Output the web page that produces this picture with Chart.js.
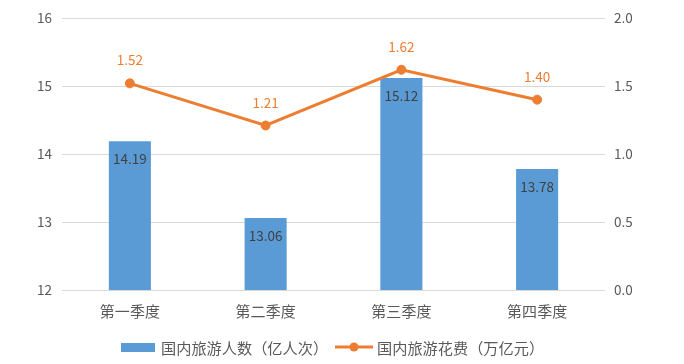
<!DOCTYPE html>
<html><head><meta charset="utf-8">
<script src="https://cdn.jsdelivr.net/npm/chart.js@4/dist/chart.umd.min.js"></script>
<style>html,body{margin:0;padding:0;background:#fff}#wrap{width:684px;height:364px;position:relative}</style>
</head><body><div id="wrap"><canvas id="c" width="684" height="364"></canvas></div>
<script>
const categories = ['第一季度','第二季度','第三季度','第四季度'];
const visitors = [14.19, 13.06, 15.12, 13.78];
const spending = [1.52, 1.21, 1.62, 1.40];
const leftTicks = [12, 13, 14, 15, 16];
const rightTicks = [0, 0.5, 1.0, 1.5, 2.0];
const seriesNames = ['国内旅游人数（亿人次）', '国内旅游花费（万亿元）'];

const FONT = '"Noto Sans CJK SC", "Noto Sans", sans-serif';
const BLUE = '#5b9bd5', ORANGE = '#ed7d31', GRAY = '#595959';

const labelPlugin = {
  id: 'labels',
  afterDatasetsDraw(chart) {
    const ctx = chart.ctx;
    ctx.save();
    ctx.font = '13.5px ' + FONT;
    ctx.textAlign = 'center';
    ctx.textBaseline = 'middle';
    chart.getDatasetMeta(0).data.forEach((el, i) => {
      ctx.fillStyle = '#404040';
      ctx.fillText(visitors[i].toFixed(2), el.x, el.y + 18);
    });
    chart.getDatasetMeta(1).data.forEach((el, i) => {
      ctx.fillStyle = ORANGE;
      ctx.fillText(spending[i].toFixed(2), el.x, el.y - 23);
    });
    // legend
    const y = 347;
    ctx.font = '15.2px ' + FONT;
    ctx.textAlign = 'left';
    ctx.fillStyle = BLUE;
    ctx.fillRect(121, y - 4, 34, 9);
    ctx.fillStyle = GRAY;
    ctx.fillText(seriesNames[0], 161, y + 1);
    ctx.strokeStyle = ORANGE; ctx.lineWidth = 3;
    ctx.beginPath(); ctx.moveTo(335, y); ctx.lineTo(373, y); ctx.stroke();
    ctx.fillStyle = ORANGE;
    ctx.beginPath(); ctx.arc(354, y, 4.5, 0, Math.PI * 2); ctx.fill();
    ctx.fillStyle = GRAY;
    ctx.fillText(seriesNames[1], 377, y + 1);
    ctx.restore();
  }
};

new Chart(document.getElementById('c'), {
  data: {
    labels: categories,
    datasets: [
      { type: 'bar', label: seriesNames[0], data: visitors, yAxisID: 'y',
        backgroundColor: BLUE, barPercentage: 0.31, categoryPercentage: 1, order: 1 },
      { type: 'line', label: seriesNames[1], data: spending, yAxisID: 'y1',
        borderColor: ORANGE, backgroundColor: ORANGE, borderWidth: 3,
        pointRadius: 4.5, pointHoverRadius: 4.5, pointBorderWidth: 1, tension: 0, order: 0 }
    ]
  },
  options: {
    responsive: false, animation: false,
    layout: { padding: { top: 10, bottom: 44, left: 0, right: 0 } },
    plugins: { legend: { display: false }, tooltip: { enabled: false } },
    scales: {
      x: {
        grid: { display: false }, border: { display: false },
        ticks: { color: GRAY, font: { size: 15, family: FONT }, padding: 4 },
        afterFit(s) { s.height = 30; }
      },
      y: {
        position: 'left', min: 12, max: 16,
        afterBuildTicks(s) { s.ticks = leftTicks.map(v => ({ value: v })); },
        grid: { color: '#d9d9d9', drawTicks: false }, border: { display: false },
        ticks: { color: GRAY, font: { size: 13.5, family: FONT }, padding: 10 },
        afterFit(s) { s.width = 62; }
      },
      y1: {
        position: 'right', min: 0, max: 2,
        afterBuildTicks(s) { s.ticks = rightTicks.map(v => ({ value: v })); },
        grid: { display: false, drawTicks: false }, border: { display: false },
        ticks: { color: GRAY, font: { size: 13.5, family: FONT }, padding: 9,
          callback: v => Number(v).toFixed(1) },
        afterFit(s) { s.width = 79; }
      }
    }
  },
  plugins: [labelPlugin]
});
</script></body></html>
